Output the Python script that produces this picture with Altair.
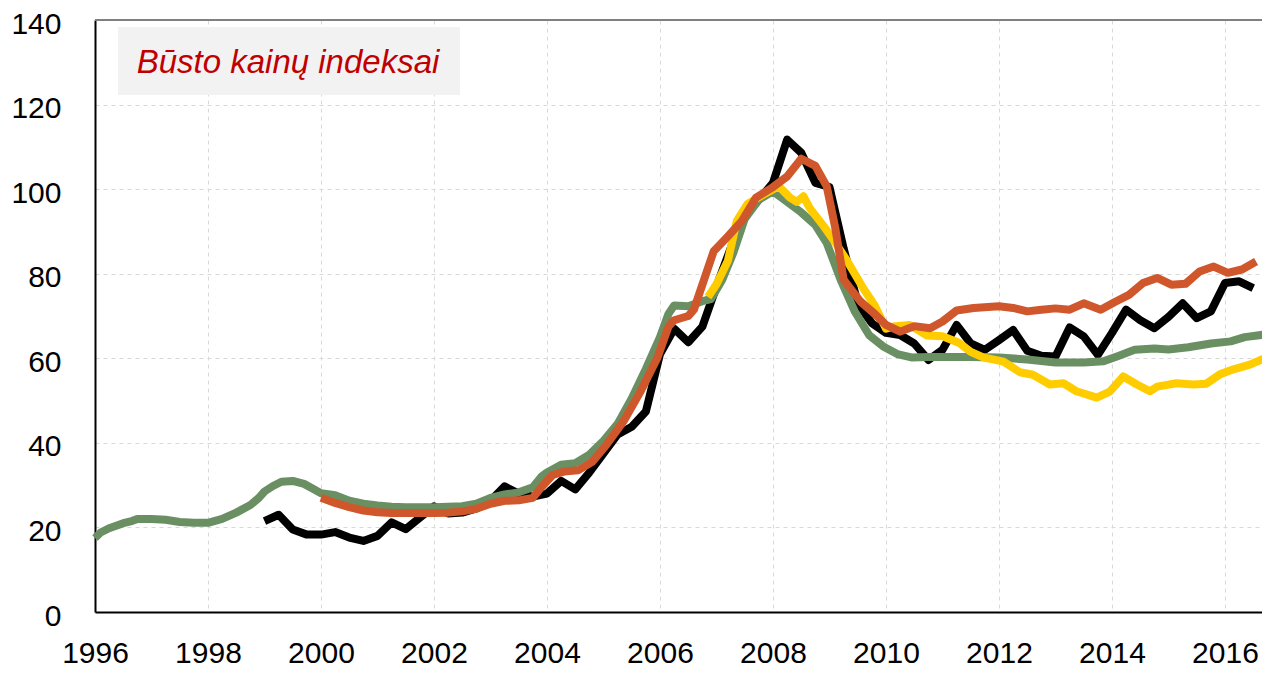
import altair as alt
import pandas as pd

# ---- data ----
green_x = [1996.0, 1996.1, 1996.25, 1996.4, 1996.5, 1996.65, 1996.75, 1997.0, 1997.25, 1997.5, 1997.75,
           1998.0, 1998.25, 1998.5, 1998.75, 1998.9, 1999.0, 1999.15, 1999.3, 1999.5, 1999.7, 1999.85,
           2000.0, 2000.25, 2000.5, 2000.75, 2001.0, 2001.25, 2001.5, 2001.75, 2002.0, 2002.25, 2002.5,
           2002.75, 2003.0, 2003.25, 2003.5, 2003.75, 2003.9, 2004.0, 2004.25, 2004.5, 2004.75, 2005.0,
           2005.25, 2005.5, 2005.75, 2006.0, 2006.15, 2006.25, 2006.5, 2006.75, 2006.9, 2007.1, 2007.3,
           2007.5, 2007.75, 2008.0, 2008.25, 2008.5, 2008.75, 2008.95, 2009.2, 2009.45, 2009.7, 2009.95,
           2010.2, 2010.45, 2010.75, 2011.0, 2011.5, 2012.0, 2012.5, 2013.0, 2013.5, 2013.85, 2014.1,
           2014.4, 2014.75, 2015.0, 2015.35, 2015.75, 2016.1, 2016.35, 2016.8]
green_y = [17.5, 18.8, 19.8, 20.5, 21.0, 21.5, 22.0, 22.0, 21.8, 21.3, 21.1,
           21.1, 22.0, 23.5, 25.3, 27.0, 28.5, 29.8, 30.8, 31.0, 30.3, 29.2,
           28.1, 27.6, 26.3, 25.6, 25.2, 24.9, 24.8, 24.8, 24.8, 24.9, 25.0,
           25.6, 27.0, 27.8, 28.3, 29.5, 32.0, 33.0, 34.8, 35.2, 37.2, 40.5,
           44.5, 50.5, 57.5, 65.0, 70.5, 72.5, 72.3, 73.5, 74.0, 78.5, 85.0,
           93.0, 97.5, 99.5, 97.0, 94.5, 91.5, 87.3, 78.5, 71.0, 65.5, 62.8,
           61.0, 60.2, 60.3, 60.3, 60.3, 60.2, 59.7, 59.0, 59.0, 59.3, 60.5,
           62.0, 62.3, 62.1, 62.6, 63.5, 64.0, 65.0, 65.8]

black_x = [1999.0, 1999.25, 1999.5, 1999.75, 2000.0, 2000.25, 2000.5, 2000.75, 2001.0, 2001.25, 2001.5,
           2001.75, 2002.0, 2002.25, 2002.5, 2002.75, 2003.0, 2003.25, 2003.5, 2003.75, 2004.0, 2004.25,
           2004.5, 2004.75, 2005.0, 2005.25, 2005.5, 2005.75, 2006.0, 2006.25, 2006.5, 2006.75, 2007.0,
           2007.25, 2007.5, 2007.75, 2008.0, 2008.25, 2008.5, 2008.75, 2009.0, 2009.25, 2009.5, 2009.75,
           2010.0, 2010.25, 2010.5, 2010.75, 2011.0, 2011.25, 2011.5, 2011.75, 2012.0, 2012.25, 2012.5,
           2012.75, 2013.0, 2013.25, 2013.5, 2013.75, 2014.0, 2014.25, 2014.5, 2014.75, 2015.0, 2015.25,
           2015.5, 2015.75, 2016.0, 2016.25, 2016.5]
black_y = [21.5, 23.0, 19.5, 18.3, 18.3, 18.9, 17.6, 16.8, 18.0, 21.2, 19.6,
           22.3, 25.0, 23.3, 23.5, 24.5, 26.3, 29.7, 28.0, 27.3, 28.0, 31.0,
           29.0, 33.0, 37.5, 42.0, 43.8, 47.4, 61.0, 67.0, 63.8, 67.5, 77.0,
           86.0, 93.5, 97.5, 101.5, 111.7, 108.6, 101.5, 100.5, 86.0, 73.0, 68.3,
           66.0, 65.5, 63.5, 59.6, 62.0, 67.9, 63.5, 62.0, 64.3, 66.7, 61.8,
           60.6, 60.4, 67.3, 65.2, 60.8, 66.0, 71.5, 69.0, 67.1, 69.8, 73.0,
           69.5, 71.1, 77.8, 78.2, 76.6]

orange_x = [2000.0, 2000.25, 2000.5, 2000.75, 2001.0, 2001.25, 2001.5, 2001.75, 2002.0, 2002.25, 2002.5,
            2002.75, 2003.0, 2003.25, 2003.5, 2003.75, 2003.9, 2004.1, 2004.3, 2004.55, 2004.8, 2005.05,
            2005.35, 2005.65, 2005.95, 2006.15, 2006.25, 2006.5, 2006.6, 2006.95, 2007.2, 2007.45, 2007.7,
            2008.0, 2008.25, 2008.5, 2008.75, 2008.95, 2009.1, 2009.25, 2009.55, 2009.8, 2010.0, 2010.25,
            2010.5, 2010.78, 2011.0, 2011.25, 2011.55, 2012.0, 2012.25, 2012.5, 2012.75, 2013.0, 2013.25,
            2013.5, 2013.8, 2014.05, 2014.3, 2014.55, 2014.8, 2015.05, 2015.3, 2015.55, 2015.8, 2016.05,
            2016.3, 2016.55]
orange_y = [27.0, 25.8, 24.8, 24.0, 23.6, 23.4, 23.4, 23.4, 23.4, 23.5, 23.8,
            24.4, 25.6, 26.3, 26.4, 27.0, 29.5, 32.4, 33.2, 33.5, 35.5, 39.5,
            45.0, 52.0, 60.0, 67.5, 69.0, 70.0, 71.5, 85.3, 88.8, 92.5, 98.0,
            100.5, 103.0, 107.2, 105.5, 100.7, 91.0, 78.6, 73.4, 70.5, 67.9, 66.3,
            67.6, 67.1, 68.7, 71.3, 71.9, 72.3, 71.9, 71.1, 71.5, 71.8, 71.5,
            73.0, 71.5, 73.3, 75.0, 77.8, 79.0, 77.4, 77.6, 80.5, 81.7, 80.2,
            81.0, 82.9]

yellow_x = [2006.85, 2007.0, 2007.2, 2007.36, 2007.55, 2007.8, 2008.1, 2008.3, 2008.42, 2008.54, 2008.65,
            2008.9, 2009.07, 2009.3, 2009.6, 2009.8, 2010.0, 2010.13, 2010.42, 2010.72, 2011.0, 2011.3,
            2011.5, 2011.72, 2012.08, 2012.37, 2012.6, 2012.9, 2013.14, 2013.37, 2013.73, 2013.96, 2014.2,
            2014.44, 2014.67, 2014.8, 2015.14, 2015.44, 2015.67, 2015.91, 2016.15, 2016.44, 2016.8]
yellow_y = [74.5, 77.5, 83.0, 92.5, 96.5, 98.5, 100.7, 98.0, 97.0, 98.3, 95.5,
            91.2, 88.0, 83.3, 76.5, 72.5, 67.0, 67.5, 67.9, 65.4, 65.2, 63.6,
            61.5, 60.2, 59.2, 56.7, 56.1, 53.8, 54.1, 52.2, 50.7, 52.1, 55.7,
            53.8, 52.2, 53.3, 54.1, 53.8, 54.0, 56.2, 57.4, 58.5, 60.6]

x_ticks = [1996, 1998, 2000, 2002, 2004, 2006, 2008, 2010, 2012, 2014, 2016]
y_ticks = [0, 20, 40, 60, 80, 100, 120, 140]
title_text = "Būsto kainų indeksai"

# ---- chart ----
W, H = 1167, 592
FONT = "Liberation Sans, Arial, sans-serif"

xscale = alt.Scale(domain=[1996, 2016.655], nice=False, zero=False)
yscale = alt.Scale(domain=[0, 140], nice=False)


def series(xs, ys, color):
    df = pd.DataFrame({"year": xs, "value": ys})
    return alt.Chart(df).mark_line(color=color, strokeWidth=8, strokeJoin="round", strokeCap="butt").encode(
        x=alt.X("year:Q", scale=xscale,
                axis=alt.Axis(values=x_ticks, format="d", title=None, ticks=False, labelPadding=50,
                              labelBaseline="alphabetic", grid=True, labelFlush=False)),
        y=alt.Y("value:Q", scale=yscale,
                axis=alt.Axis(values=y_ticks, title=None, ticks=False, labelPadding=34, labelOffset=4,
                              grid=True, labelFlush=False)),
    )


black = series(black_x, black_y, "#000000")
green = series(green_x, green_y, "#6a8f62")
yellow = series(yellow_x, yellow_y, "#ffcc00")
orange = series(orange_x, orange_y, "#d0572b")

top_border = alt.Chart(pd.DataFrame({"a": [0]})).mark_rule(color="#808080", strokeWidth=2).encode(
    x=alt.value(0), x2=alt.value(W), y=alt.value(0)
)

box = alt.Chart(pd.DataFrame({"a": [0]})).mark_rect(color="#f2f2f2").encode(
    x=alt.value(23), x2=alt.value(365), y=alt.value(7), y2=alt.value(75)
)
title = alt.Chart(pd.DataFrame({"t": [title_text]})).mark_text(
    font=FONT, fontSize=33, fontStyle="italic", color="#c00000", align="center", baseline="middle"
).encode(x=alt.value(193), y=alt.value(43), text="t:N")

chart = alt.layer(black, green, yellow, orange, top_border, box, title).properties(
    width=W, height=H,
    autosize=alt.AutoSizeParams(type="none"),
    padding={"left": 87, "top": 12, "right": 0, "bottom": 56},
).configure_view(stroke=None).configure_axis(
    labelFont=FONT, labelFontSize=30, labelColor="#000000",
    gridColor="#d9d9d9", gridDash=[4, 4], gridWidth=1,
    domainColor="#000000", domainWidth=2,
)

chart.save("out.html", embed_options={"renderer": "svg", "actions": False})
